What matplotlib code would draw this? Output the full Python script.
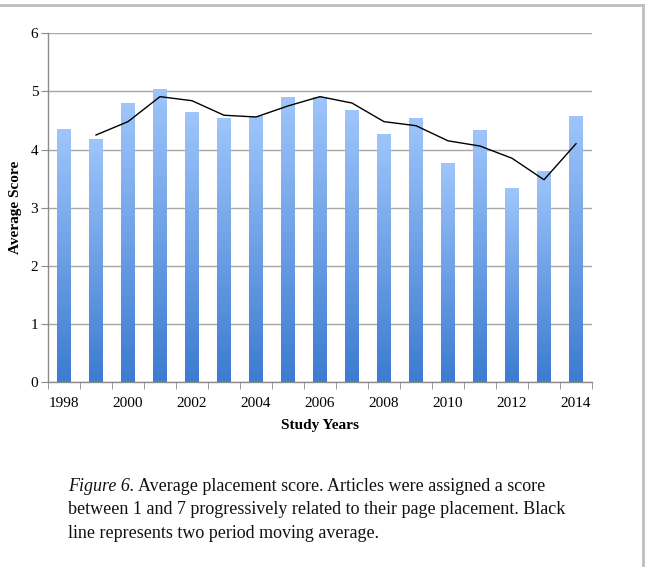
import numpy as np
import matplotlib
matplotlib.use("Agg")
import matplotlib.pyplot as plt
from matplotlib.colors import LinearSegmentedColormap
from matplotlib.lines import Line2D

# data
years = ["1998", "1999", "2000", "2001", "2002", "2003", "2004", "2005", "2006",
         "2007", "2008", "2009", "2010", "2011", "2012", "2013", "2014"]
scores = [4.34, 4.17, 4.79, 5.04, 4.64, 4.53, 4.57, 4.89, 4.90,
          4.67, 4.26, 4.53, 3.76, 4.33, 3.33, 3.63, 4.57]
# two period moving average line (starts at 1999)
ma_years = years[1:]
ma_values = [4.25, 4.48, 4.91, 4.84, 4.59, 4.56, 4.75, 4.91,
             4.80, 4.48, 4.41, 4.15, 4.06, 3.85, 3.48, 4.10]
yticks = [0, 1, 2, 3, 4, 5, 6]

fig = plt.figure(figsize=(6.47, 5.67), dpi=100)
ax = fig.add_axes([48 / 647, 1 - 382 / 567, 544 / 647, (382 - 33.3) / 567])

x = np.arange(len(years))
cmap = LinearSegmentedColormap.from_list("bars", ["#3c7bd0", "#9fc5fb"])
grad = np.linspace(0, 1, 256).reshape(-1, 1)

bars = ax.bar(x, scores, width=0.42, color="none", edgecolor="none", zorder=2)
for b in bars:
    x0, w, h = b.get_x(), b.get_width(), b.get_height()
    ax.imshow(grad, extent=[x0, x0 + w, 0, h], origin="lower", aspect="auto",
              cmap=cmap, zorder=2)

xm = [years.index(y) for y in ma_years]
ax.plot(xm, ma_values, color="black", lw=1.0, zorder=3)

ax.set_xlim(-0.5, len(years) - 0.5)
ax.set_ylim(0, 6)
ax.set_yticks(yticks)
ax.set_yticklabels([str(v) for v in yticks], family="Liberation Serif", fontsize=11)
ax.yaxis.grid(True, color="#a6a6a6", lw=1.0, zorder=0)
ax.set_axisbelow(True)

ax.set_xticks(x[::2])
ax.set_xticklabels(years[::2], family="Liberation Serif", fontsize=11)
ax.set_xticks(np.arange(-0.5, len(years)), minor=True)
ax.tick_params(axis="x", which="major", length=0, pad=11)
ax.tick_params(axis="x", which="minor", length=5, color="#8c8c8c", direction="out")
ax.tick_params(axis="y", length=5, color="#8c8c8c", pad=2)

for s in ["top", "right"]:
    ax.spines[s].set_visible(False)
for s in ["left", "bottom"]:
    ax.spines[s].set_color("#8c8c8c")
    ax.spines[s].set_linewidth(1.0)

ax.set_xlabel("Study Years", family="Liberation Serif", fontweight="bold",
              fontsize=11, labelpad=6)
ax.set_ylabel("Average Score", family="Liberation Serif", fontweight="bold",
              fontsize=11, labelpad=6)

# page frame
fig.add_artist(Line2D([0, 643 / 647], [1 - 5 / 567, 1 - 5 / 567],
                      transform=fig.transFigure, color="#bdbdbd", lw=2))
fig.add_artist(Line2D([643 / 647, 643 / 647], [0, 1 - 5 / 567],
                      transform=fig.transFigure, color="#bdbdbd", lw=2))

# caption
cap_font = dict(family="Liberation Serif", fontsize=13, color="#111111")
x0 = 68 / 647
t = fig.text(x0, 1 - 491 / 567, "Figure 6.", style="italic", **cap_font)
fig.canvas.draw()
bb = t.get_window_extent(fig.canvas.get_renderer())
fig.text(bb.x1 / fig.bbox.width + 4 / 647, 1 - 491 / 567,
         "Average placement score. Articles were assigned a score", **cap_font)
fig.text(x0, 1 - 514.5 / 567,
         "between 1 and 7 progressively related to their page placement. Black", **cap_font)
fig.text(x0, 1 - 538 / 567, "line represents two period moving average.", **cap_font)

fig.savefig("out.png", dpi=100)
